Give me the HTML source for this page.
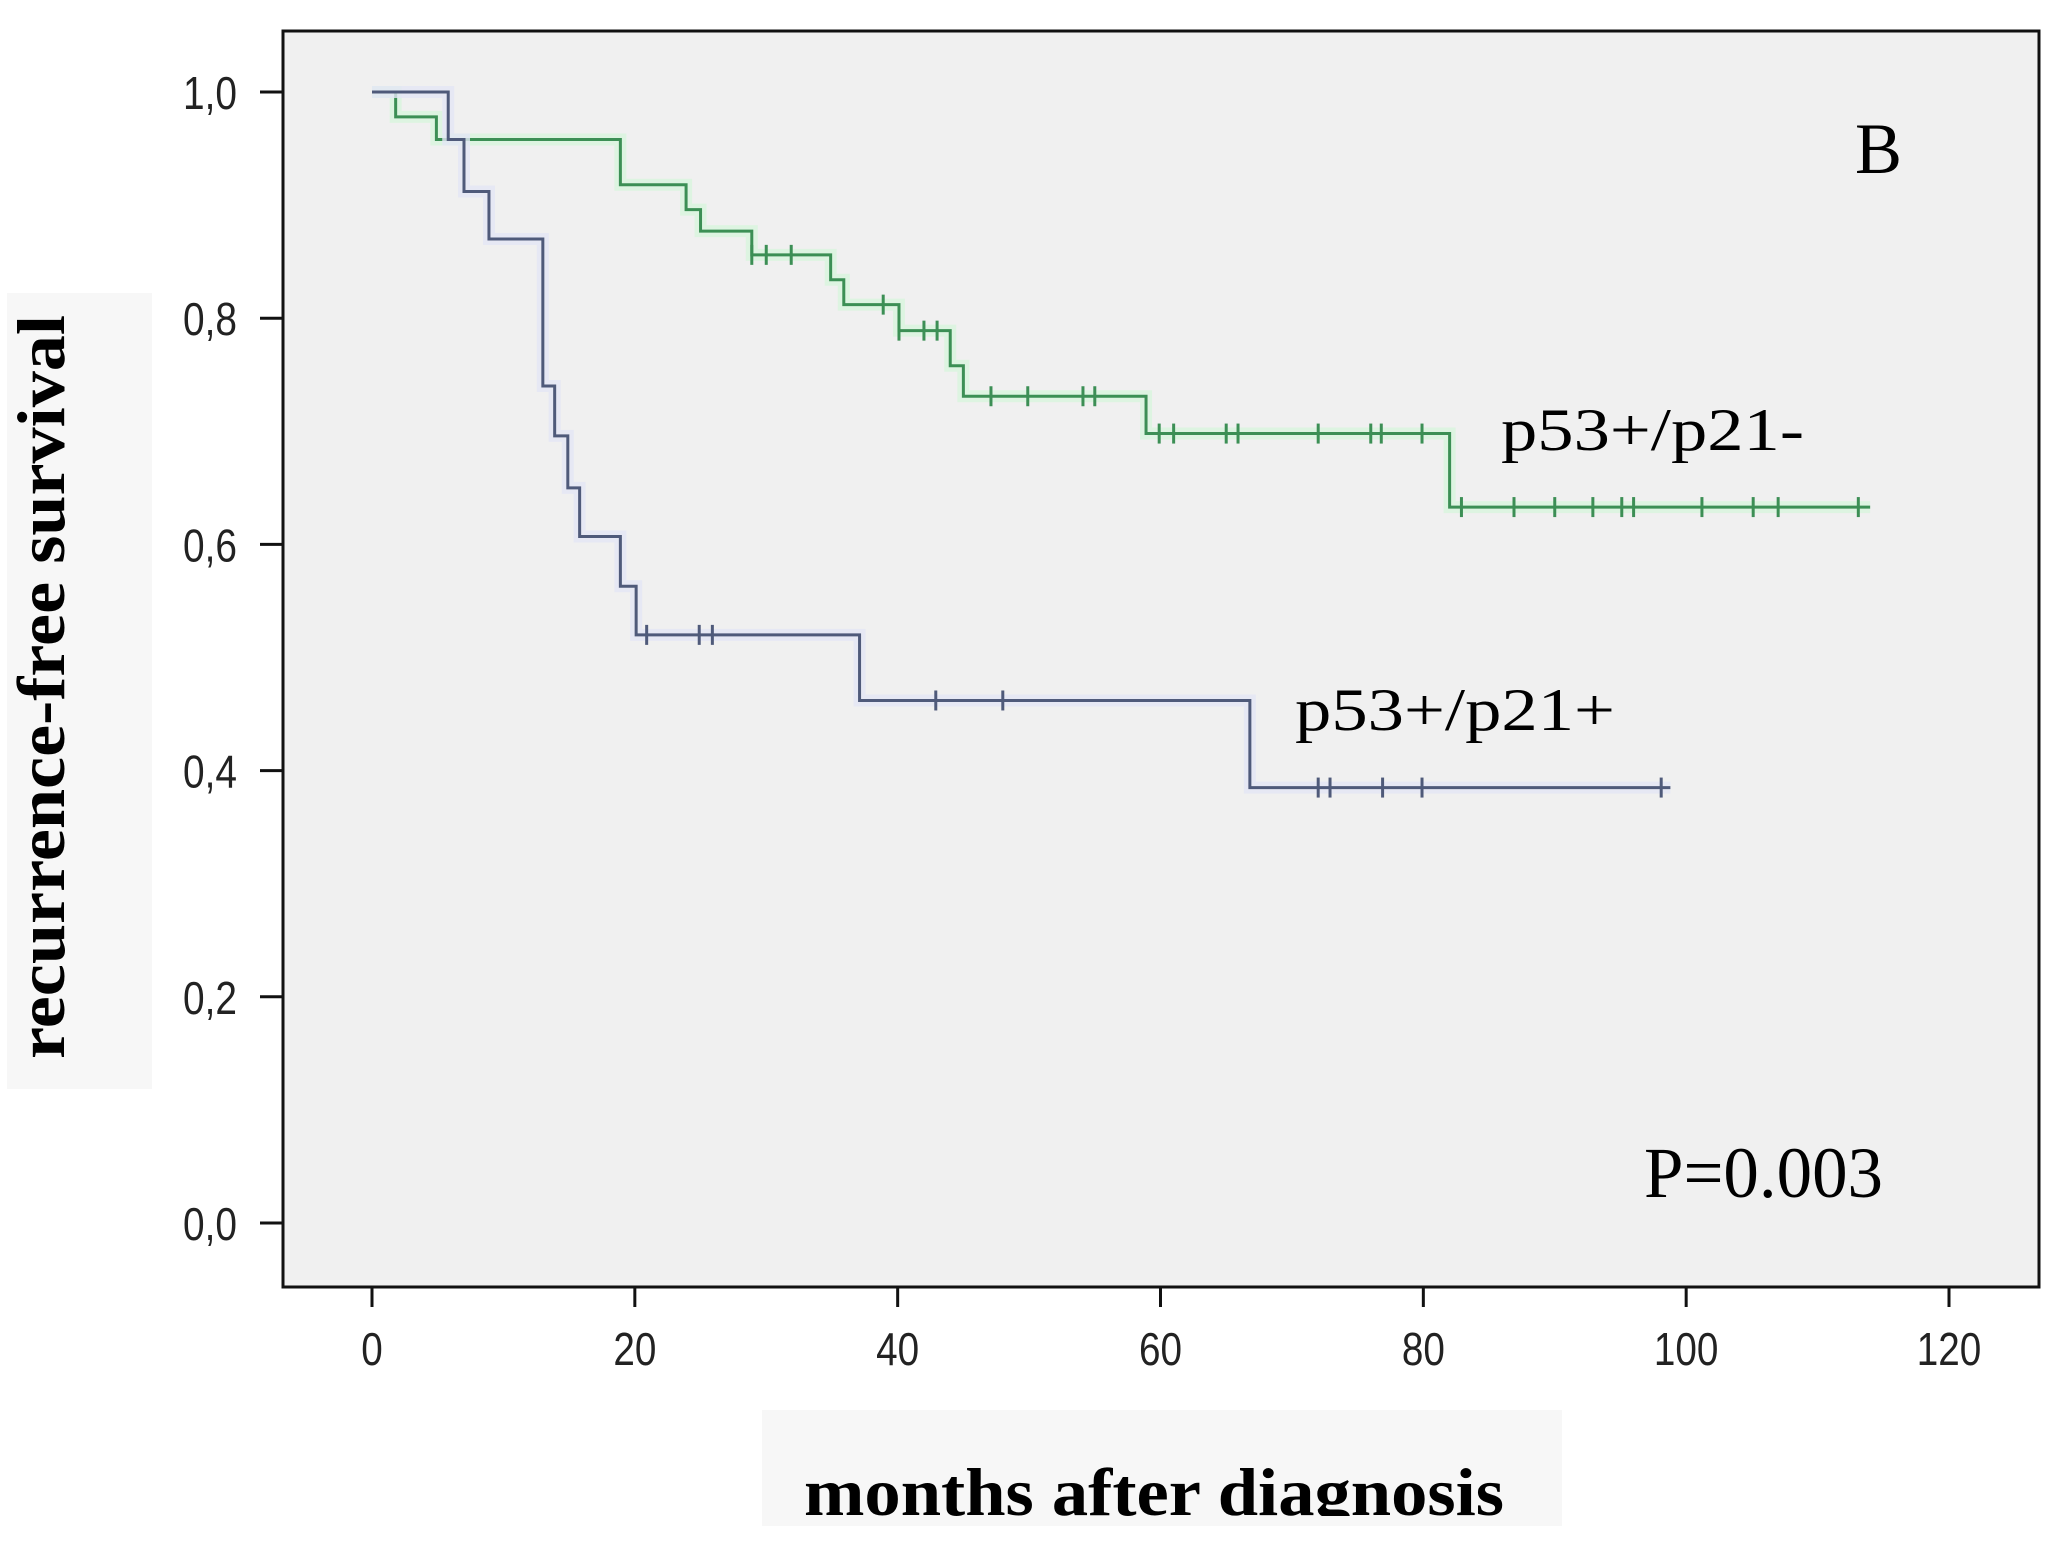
<!DOCTYPE html>
<html><head><meta charset="utf-8"><style>
html,body{margin:0;padding:0;background:#fff;}
svg{display:block;}
</style></head><body>
<svg id="chart" width="2068" height="1545" viewBox="0 0 2068 1545" xmlns="http://www.w3.org/2000/svg">
<rect x="7" y="293" width="145" height="796" fill="#f7f7f7"/>
<rect x="762" y="1410" width="800" height="116" fill="#f7f7f7"/>
<rect x="283" y="31" width="1756" height="1256" fill="#f0f0f0" stroke="#111" stroke-width="3"/>
<g id="axes"></g>
<g id="series"></g>
<text x="64" y="687" transform="rotate(-90 64 687)" text-anchor="middle" font-family="Liberation Serif, serif" font-weight="bold" font-size="68" textLength="744" lengthAdjust="spacingAndGlyphs" fill="#000">recurrence-free survival</text>
<svg x="0" y="0" width="2068" height="1516" overflow="hidden"><text x="804" y="1515" font-family="Liberation Serif, serif" font-weight="bold" font-size="68" textLength="700" lengthAdjust="spacingAndGlyphs" fill="#000">months after diagnosis</text></svg>
<text x="1855" y="173" font-family="Liberation Serif, serif" font-size="72" textLength="47" lengthAdjust="spacingAndGlyphs" fill="#000">B</text>
<text x="1501" y="450" font-family="Liberation Serif, serif" font-size="60" textLength="303" lengthAdjust="spacingAndGlyphs" fill="#000">p53+/p21-</text>
<text x="1295" y="730" font-family="Liberation Serif, serif" font-size="60" textLength="320" lengthAdjust="spacingAndGlyphs" fill="#000">p53+/p21+</text>
<text x="1644" y="1197" font-family="Liberation Serif, serif" font-size="72" textLength="239" lengthAdjust="spacingAndGlyphs" fill="#000">P=0.003</text>
</svg>
<script>
const xTicks = [0, 20, 40, 60, 80, 100, 120];
const yTicks = [0, 0.2, 0.4, 0.6, 0.8, 1.0];
const yTickLabels = ["0,0", "0,2", "0,4", "0,6", "0,8", "1,0"];

// p53+/p21- (green)
const greenTimes = [0, 1.8, 4.9, 18.9, 23.9, 25.0, 28.9, 34.9, 35.9, 40.1, 44.0, 45.0, 58.9, 82.0];
const greenSurv  = [1.0, 0.978, 0.958, 0.918, 0.896, 0.877, 0.856, 0.834, 0.812, 0.789, 0.758, 0.731, 0.698, 0.633];
const greenEnd = 114.0;
const greenCensor = [28.9, 30.0, 31.9, 38.9, 40.1, 42.0, 43.0, 47.1, 49.9, 54.1, 55.0, 59.9, 61.0, 65.0, 65.9, 72.0, 76.0, 76.8, 79.9, 82.9, 86.9, 90.0, 92.9, 95.1, 96.0, 101.2, 105.1, 107.0, 113.1];

// p53+/p21+ (blue)
const blueTimes = [0, 5.8, 7.0, 8.9, 13.0, 13.9, 14.9, 15.8, 18.9, 20.1, 37.1, 66.8];
const blueSurv  = [1.0, 0.958, 0.912, 0.870, 0.740, 0.696, 0.650, 0.607, 0.563, 0.520, 0.462, 0.385];
const blueEnd = 98.8;
const blueCensor = [20.9, 24.9, 25.9, 42.9, 48.0, 72.0, 72.9, 76.9, 79.9, 98.1];

const NS = "http://www.w3.org/2000/svg";
const X0 = 372, X1 = 1949, Y0 = 1223, Y1 = 92;
function sx(m){ return X0 + (m - 0) / 120 * (X1 - X0); }
function sy(v){ return Y0 - v * (Y0 - Y1); }
function mk(tag, attrs){ const e = document.createElementNS(NS, tag); for (const k in attrs) e.setAttribute(k, attrs[k]); return e; }

const axes = document.getElementById('axes');
xTicks.forEach(t => {
  const l = mk('line', {x1: sx(t), x2: sx(t), y1: 1287, y2: 1307, stroke: '#111', 'stroke-width': 3});
  
  
  axes.appendChild(l);
  const tx = mk('text', {x: sx(t), y: 1365, 'text-anchor': 'middle', 'font-family': 'Liberation Sans, sans-serif', 'font-size': 46, fill: '#222', textLength: String(t).length * 21.5, lengthAdjust: 'spacingAndGlyphs'});
  tx.textContent = String(t);
  
  
  axes.appendChild(tx);
});
yTicks.forEach((v, i) => {
  const l = mk('line', {x1: 260, x2: 283, y1: sy(v), y2: sy(v), stroke: '#111', 'stroke-width': 3});
  
  
  axes.appendChild(l);
  const tx = mk('text', {x: 237, y: sy(v) + 17, 'text-anchor': 'end', 'font-family': 'Liberation Sans, sans-serif', 'font-size': 46, fill: '#222', textLength: 54, lengthAdjust: 'spacingAndGlyphs'});
  tx.textContent = yTickLabels[i];
  
  
  axes.appendChild(tx);
});

function survAt(times, surv, t){ let s = surv[0]; for (let i = 0; i < times.length; i++) if (times[i] <= t) s = surv[i]; return s; }
function drawKM(times, surv, end, censor, color, name){
  const g = document.getElementById('series');
  let d = 'M' + sx(times[0]) + ' ' + sy(surv[0]);
  for (let i = 1; i < times.length; i++) {
    d += ' H' + sx(times[i]) + ' V' + sy(surv[i]);
  }
  d += ' H' + sx(end);
  const halo = mk('path', {d: d, fill: 'none', stroke: color === '#3c8f55' ? '#d8f5dd' : '#e3e6f5', 'stroke-width': 12, opacity: 0.8});
  
  
  g.appendChild(halo);
  const p = mk('path', {d: d, fill: 'none', stroke: color, 'stroke-width': 3});
  
  
  g.appendChild(p);
  censor.forEach(c => {
    const y = sy(survAt(times, surv, c));
    const m = mk('line', {x1: sx(c), x2: sx(c), y1: y - 10, y2: y + 10, stroke: color, 'stroke-width': 3});
    
    
    g.appendChild(m);
  });
}
drawKM(greenTimes, greenSurv, greenEnd, greenCensor, '#3c8f55', 'p21-negative');
drawKM(blueTimes, blueSurv, blueEnd, blueCensor, '#4f5a7a', 'p21-positive');
</script>
</body></html>
